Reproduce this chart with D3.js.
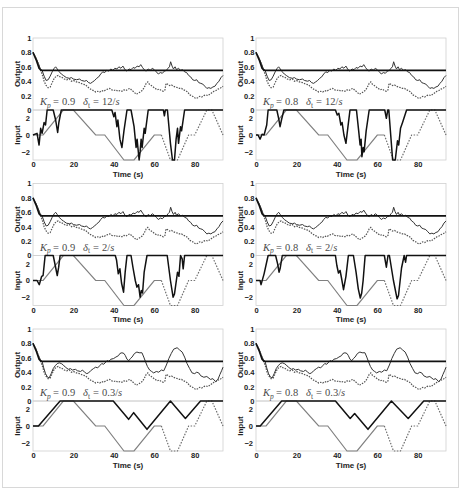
<!DOCTYPE html>
<html>
<head>
<meta charset="utf-8">
<script src="https://cdn.jsdelivr.net/npm/d3@7"></script>
<style>
  body { margin: 0; background: #fff; }
  .tick text { font-family: "Liberation Sans", Arial, sans-serif; font-weight: bold; font-size: 7.5px; fill: #222; }
  .axis-title { font-family: "Liberation Sans", Arial, sans-serif; font-weight: bold; font-size: 8px; fill: #222; }
  .note { font-family: "Liberation Serif", "DejaVu Serif", serif; font-size: 10.5px; fill: #4a4a4a; }
</style>
</head>
<body>
<svg id="chart" width="465" height="489"></svg>
<script>
// Panel parameters
var kpValues = [0.9, 0.8];          // columns
var deltaValues = ['12', '2', '0.3']; // rows

// Tick labels
var timeTicks = [0, 20, 40, 60, 80];
var outputTicks = [0, 0.2, 0.4, 0.6, 0.8, 1];
var inputTicks = [-2, 0, 2];

// Output: set point (thick black)
var outTarget = [[0, 0.8], [1.5, 0.7], [3, 0.58], [4, 0.55], [94, 0.55]];

// Output with controller, fast delta rows (rows 1 and 2)
var outFast = [[0,0.8],[1.5,0.72],[2.6,0.65],[3.5,0.58],[4.5,0.55],[5.5,0.47],[6.5,0.41],[7.5,0.42],[8.5,0.47],[9.5,0.53],[10.5,0.58],[11.2,0.6],[12,0.57],[13,0.53],[14,0.5],[15,0.48],[16.5,0.45],[18,0.44],[19,0.45],[20,0.43],[21.5,0.42],[23,0.43],[24,0.41],[25.5,0.4],[26.5,0.41],[27.5,0.38],[28.5,0.37],[29.5,0.39],[30.5,0.41],[31.5,0.44],[32.5,0.46],[33.5,0.5],[34.5,0.53],[35.5,0.52],[36.5,0.55],[37.5,0.54],[38.5,0.57],[39.5,0.55],[40.5,0.58],[41.5,0.57],[42.5,0.6],[43.5,0.58],[44.5,0.61],[45.5,0.56],[46.5,0.54],[47.5,0.57],[48.5,0.56],[49.5,0.59],[50.5,0.58],[51.5,0.61],[52.5,0.6],[53.3,0.63],[54.2,0.59],[55,0.56],[56,0.54],[57,0.57],[58,0.55],[59,0.58],[60,0.56],[61,0.53],[62,0.5],[63,0.52],[64,0.51],[65,0.54],[66,0.55],[66.8,0.58],[67.5,0.6],[68.1,0.67],[68.8,0.61],[69.5,0.57],[70.3,0.6],[71,0.56],[72,0.58],[73,0.55],[74,0.56],[75,0.53],[76,0.52],[77,0.48],[78,0.46],[79,0.42],[80,0.41],[81,0.42],[82,0.38],[83,0.37],[84,0.36],[85,0.33],[86,0.3],[87,0.31],[88,0.3],[89,0.32],[90,0.33],[91,0.37],[92,0.4],[93,0.45],[94,0.48]];

// Output with controller, slow delta row (row 3)
var outSlow = [[0,0.8],[1.5,0.72],[2.5,0.64],[3.5,0.58],[4.5,0.55],[5.3,0.46],[6.2,0.38],[7.2,0.33],[8,0.32],[9,0.38],[10,0.45],[11,0.49],[12,0.52],[13,0.53],[14,0.52],[15,0.5],[16,0.47],[17.5,0.44],[18.5,0.45],[19.5,0.43],[21,0.44],[22,0.42],[23.5,0.41],[24.5,0.43],[25.5,0.4],[26.6,0.38],[27.5,0.39],[28.5,0.42],[29.9,0.45],[31,0.47],[32,0.46],[33,0.49],[34,0.52],[35,0.51],[36.6,0.56],[37.5,0.55],[38.5,0.58],[39.9,0.59],[41,0.61],[42.3,0.63],[43,0.66],[44,0.67],[45,0.66],[45.7,0.63],[46.5,0.58],[47.4,0.56],[48.2,0.59],[49,0.61],[50.2,0.66],[51.4,0.68],[52.5,0.67],[53.9,0.67],[54.8,0.61],[55.6,0.55],[56.6,0.48],[57.7,0.43],[58.7,0.41],[59.7,0.39],[61,0.41],[62.2,0.4],[63.5,0.43],[64.7,0.42],[66,0.5],[67.2,0.59],[68.4,0.66],[69.6,0.72],[71.3,0.74],[72.5,0.71],[73.8,0.68],[75,0.61],[76.2,0.52],[77.5,0.45],[78.7,0.39],[80,0.38],[81,0.4],[82,0.39],[83,0.35],[84.5,0.33],[86,0.34],[87.8,0.3],[89,0.31],[90.3,0.27],[91.5,0.3],[92.5,0.37],[93.3,0.42],[94,0.47]];

// Output without the controller (dotted, same in every panel)
var outRef = [[0,0.8],[1.5,0.72],[2.6,0.64],[3.5,0.57],[4.5,0.5],[5.5,0.4],[6.5,0.34],[7.5,0.31],[8.5,0.32],[9.5,0.38],[10.5,0.44],[11.5,0.47],[12.5,0.48],[13.5,0.46],[14.5,0.45],[15.5,0.43],[16.7,0.42],[18,0.43],[19,0.4],[20,0.41],[21.5,0.39],[23,0.38],[24.5,0.36],[26,0.35],[27,0.32],[28,0.3],[29,0.28],[30,0.27],[31,0.25],[32,0.26],[33,0.25],[34,0.27],[35,0.26],[36,0.28],[37,0.29],[38,0.3],[39,0.28],[40,0.27],[41,0.28],[42,0.26],[43,0.27],[44,0.26],[45,0.28],[46,0.27],[47,0.29],[48,0.3],[49,0.27],[50,0.25],[51,0.22],[52,0.23],[53,0.25],[54,0.27],[55,0.31],[56,0.37],[56.8,0.39],[57.5,0.36],[58.5,0.34],[59.5,0.32],[60.5,0.3],[61.5,0.28],[62.5,0.29],[63.5,0.27],[64.5,0.26],[65.3,0.28],[65.8,0.37],[66.5,0.36],[67.5,0.34],[68.5,0.35],[69.5,0.33],[70.5,0.32],[71.5,0.31],[72.5,0.3],[73.5,0.3],[74.5,0.28],[75.5,0.27],[76.5,0.25],[77.5,0.21],[78.5,0.2],[79.5,0.18],[80.5,0.16],[81.5,0.17],[82.5,0.19],[83.5,0.18],[84.5,0.2],[85.5,0.21],[86.5,0.2],[87.5,0.22],[88.5,0.24],[89.5,0.26],[90.5,0.27],[91.5,0.29],[92.5,0.3],[93.5,0.32],[94,0.33]];

// Input without controller (grey): solid part then dotted part
var inRefSolid = [[0,0],[5,0],[15,3],[20,3],[31,0],[35.5,0],[45,-3],[50,-3],[60,0],[63.5,0]];
var inRefDotted = [[63.5,0],[68,-3],[71.5,-3],[77,0],[80,0],[86,3],[88.5,3],[94,0]];

// Input with controller (black), one array per panel
var inK9d12 = [[0,0],[2,0.2],[3,-1.2],[3.8,0.8],[4.5,0.2],[5.5,1.5],[6.2,1.2],[7,3],[10,3],[11.2,1.8],[12.2,0.3],[12.8,1.5],[14,3],[39,3],[40,2.2],[40.6,2.7],[41.5,1],[42,1.8],[43,-0.5],[44,-1.5],[45,0.5],[46.5,3],[48.5,3],[50,1],[51,-1.5],[51.5,-0.5],[52.5,-3],[53,-2],[53.5,-0.5],[54,-1.5],[55,0.8],[55.5,0.2],[57,3],[64.5,3],[65,2.3],[65.5,3],[66.5,3],[68,-1],[69,-3],[70,-3],[70.8,-0.5],[71.5,0.8],[72,-1],[73,1],[73.5,0.5],[75,3],[94,3]];
var inK8d12 = [[0,0],[1,0],[2,-0.5],[3,0.1],[4,0],[5.3,1.2],[6,3],[10.3,3],[11.2,2],[11.9,1],[12.6,1.8],[13.8,3],[39.3,3],[40.2,2.4],[41,2.6],[42,1.2],[42.6,1.5],[43.5,0],[44.5,-1],[45.5,1],[46.5,3],[49.7,3],[50.8,0.5],[51.5,-1.2],[52,-0.5],[52.4,-2.6],[53,-1.5],[53.5,-2],[54.5,0.5],[56,3],[63.7,3],[64.5,2],[65.2,3],[65.7,3],[67.6,-3],[68.9,-3],[70,-0.7],[70.6,-1.2],[71.5,0.8],[72.5,1.5],[74.5,3],[94,3]];
var inK9d2 = [[0,0],[2,0],[3.1,-0.5],[4.3,0.5],[5,0.6],[6,3],[10,3],[11,1.8],[12,0.6],[12.7,1.6],[13.4,3],[40.7,3],[41.3,2.5],[42.2,0.8],[43,1.4],[43.8,-0.3],[44.8,-1.4],[45.6,1],[46.5,3],[48.5,3],[49.5,1.5],[50.6,0],[51.4,-0.8],[52.2,-0.5],[53,-2],[53.6,-1.2],[54.2,-1.5],[55,1],[56.4,3],[66.4,3],[68,0],[69.3,-2],[70,-1.6],[71.5,1],[72.2,0.5],[73,3],[73.8,2.6],[74.3,1.4],[75,3],[94,3]];
var inK8d2 = [[0,0],[2,0],[2.5,-0.5],[3.2,0.1],[4,0.8],[6,3],[9.7,3],[10.7,2],[11.4,1],[12,1.5],[13,3],[39.3,3],[40,1.8],[40.8,0.9],[41.6,1.2],[42.3,0.3],[43.3,-1.1],[44.5,0.5],[45.7,3],[48.2,3],[49.5,1],[50.6,-1],[51.6,-2.1],[52.3,-1.5],[53,0],[54,3],[63.5,3],[64.5,1.6],[65.3,3],[66,3],[68,0],[69.8,-2.2],[70.5,-1.8],[72,1.5],[73.3,3],[74,2.2],[74.5,3],[94,3]];
var inK9d03 = [[0,0],[2.7,0],[13.4,3],[39.7,3],[47.3,0.8],[49.8,1.6],[56.4,-0.4],[68,3],[75.4,0.9],[82.9,3],[94,3]];
var inK8d03 = [[0,0],[2.1,0],[12.7,3],[39.3,3],[46.6,0.9],[48.8,1.5],[55.4,-0.4],[67,3],[75.3,0.9],[83,3],[94,3]];

var inputsBlack = [[inK9d12, inK8d12], [inK9d2, inK8d2], [inK9d03, inK8d03]];
var outputsCtrl = [outFast, outFast, outSlow];

// Layout
var colX = [33, 256];
var rowY = [38, 183.5, 329];
var plotW = 190, outH = 72, inH = 50;

var svg = d3.select('#chart');

// Figure frame
svg.append('rect')
  .attr('x', 2.5).attr('y', 7.5)
  .attr('width', 456).attr('height', 480)
  .attr('fill', 'none').attr('stroke', '#d8d8d8');

var line = d3.line();

rowY.forEach(function (y0, r) {
  colX.forEach(function (x0, c) {
    var x = d3.scaleLinear().domain([0, 94]).range([x0, x0 + plotW]);
    var yOut = d3.scaleLinear().domain([0, 1]).range([y0 + outH, y0]);
    var yIn = d3.scaleLinear().domain([-3, 3]).range([y0 + outH + inH, y0 + outH]);
    var g = svg.append('g');

    // Plot boxes
    g.append('rect').attr('x', x0).attr('y', y0).attr('width', plotW).attr('height', outH)
      .attr('fill', 'none').attr('stroke', '#d0d0d0').attr('stroke-width', 0.8);
    g.append('rect').attr('x', x0).attr('y', y0 + outH).attr('width', plotW).attr('height', inH)
      .attr('fill', 'none').attr('stroke', '#d0d0d0').attr('stroke-width', 0.8);

    // Axes
    g.append('g').attr('transform', 'translate(' + x0 + ',0)')
      .call(d3.axisLeft(yOut).tickValues(outputTicks).tickSize(0).tickPadding(1.5)
        .tickFormat(function (d) { return (d === 0 || d === 1) ? String(d) : d3.format('.1f')(d); }))
      .call(function (a) { a.select('.domain').remove(); });
    g.append('g').attr('transform', 'translate(' + x0 + ',0)')
      .call(d3.axisLeft(yIn).tickValues(inputTicks).tickSize(0).tickPadding(3).tickFormat(d3.format('d')))
      .call(function (a) { a.select('.domain').remove(); });
    g.append('g').attr('transform', 'translate(0,' + (y0 + outH + inH) + ')')
      .call(d3.axisBottom(x).tickValues(timeTicks).tickSize(0).tickPadding(2))
      .call(function (a) { a.select('.domain').remove(); });

    // Axis titles
    g.append('text').attr('class', 'axis-title')
      .attr('transform', 'translate(' + (x0 - 13) + ',' + (y0 + outH / 2) + ') rotate(-90)')
      .attr('text-anchor', 'middle').text('Output');
    g.append('text').attr('class', 'axis-title')
      .attr('transform', 'translate(' + (x0 - 13) + ',' + (y0 + outH + inH / 2) + ') rotate(-90)')
      .attr('text-anchor', 'middle').text('Input');
    g.append('text').attr('class', 'axis-title')
      .attr('x', x0 + plotW / 2).attr('y', y0 + 138.5)
      .attr('text-anchor', 'middle').text('Time (s)');

    // Output curves
    line.x(function (d) { return x(d[0]); }).y(function (d) { return yOut(d[1]); });
    g.append('path').attr('d', line(outRef)).attr('fill', 'none')
      .attr('stroke', '#555').attr('stroke-width', 1.2).attr('stroke-dasharray', '1.5,1.2');
    g.append('path').attr('d', line(outputsCtrl[r])).attr('fill', 'none')
      .attr('stroke', '#333').attr('stroke-width', 1);
    g.append('path').attr('d', line(outTarget)).attr('fill', 'none')
      .attr('stroke', '#111').attr('stroke-width', 1.6);

    // Input curves
    line.y(function (d) { return yIn(d[1]); });
    g.append('path').attr('d', line(inRefSolid)).attr('fill', 'none')
      .attr('stroke', '#808080').attr('stroke-width', 1.2);
    g.append('path').attr('d', line(inRefDotted)).attr('fill', 'none')
      .attr('stroke', '#707070').attr('stroke-width', 1.2).attr('stroke-dasharray', '1.5,1.5');
    g.append('path').attr('d', line(inputsBlack[r][c])).attr('fill', 'none')
      .attr('stroke', '#111').attr('stroke-width', 1.5).attr('stroke-linejoin', 'round');

    // Parameter note, pieces placed like the equation layout
    var ny = y0 + 67;
    var note = g.append('text').attr('class', 'note').attr('y', ny);
    note.append('tspan').attr('x', x0 + 7).attr('font-style', 'italic').text('K');
    note.append('tspan').attr('font-style', 'italic').attr('font-size', '7.5px').attr('dy', 2.5).text('p');
    note.append('tspan').attr('x', x0 + 20).attr('y', ny).text('=');
    note.append('tspan').attr('x', x0 + 29).text(kpValues[c]);
    note.append('tspan').attr('x', x0 + 50).attr('font-style', 'italic').text('δ');
    note.append('tspan').attr('font-size', '7.5px').attr('dy', 2.5).text('t');
    note.append('tspan').attr('x', x0 + 60).attr('y', ny).text('=');
    note.append('tspan').attr('x', x0 + 69).text(deltaValues[r] + '/');
    note.append('tspan').attr('font-style', 'italic').text('s');
  });
});
</script>
</body>
</html>
